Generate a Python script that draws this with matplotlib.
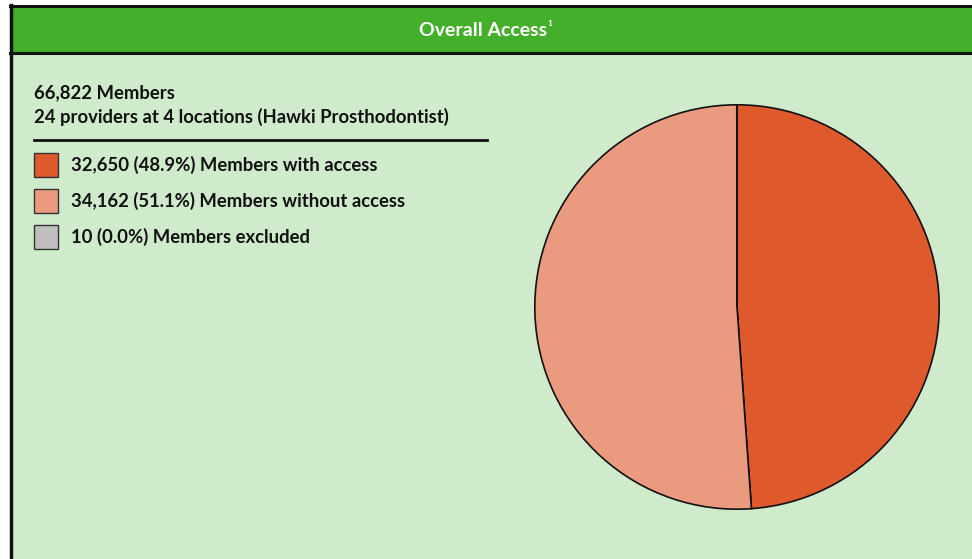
import matplotlib.pyplot as plt
from matplotlib.patches import Rectangle

# data
total_members = 66822
providers_line = "24 providers at 4 locations (Hawki Prosthodontist)"
labels = ["Members with access", "Members without access", "Members excluded"]
counts = [32650, 34162, 10]
pcts = [48.9, 51.1, 0.0]
colors = ["#DE592B", "#EA9A7F", "#BFBFBF"]

W, H = 972, 559
fig = plt.figure(figsize=(W / 100, H / 100), dpi=100)
fig.patch.set_facecolor("white")

bg = fig.add_axes([0, 0, 1, 1])
bg.set_xlim(0, W)
bg.set_ylim(H, 0)
bg.axis("off")

# body and header panels
bg.add_patch(Rectangle((10, 6), W, H, facecolor="#D0EBCB", edgecolor="none"))
bg.add_patch(Rectangle((10, 6), W, 47, facecolor="#43AF2A", edgecolor="none"))
bg.plot([10, W], [5.5, 5.5], color="#111111", lw=2.2)
bg.plot([10, W], [53, 53], color="#111111", lw=2.2)
bg.plot([10.5, 10.5], [5, H], color="#111111", lw=2.5)

font = "Lato"
bg.text(483, 30, "Overall Access", color="white", fontsize=14,
        fontweight="bold", ha="center", va="center", family=font)
bg.text(550, 24, "1", color="white", fontsize=6,
        fontweight="bold", ha="center", va="center", family=font)

fs = 13.3
bg.text(34, 93, f"{total_members:,} Members", fontsize=fs, fontweight="bold",
        va="center", family=font, color="#111111")
bg.text(34, 117, providers_line, fontsize=fs, fontweight="bold",
        va="center", family=font, color="#111111")
bg.plot([34, 487], [140, 140], color="#111111", lw=2)

ys = [165, 201, 237]
for y, c, n, p, lab in zip(ys, colors, counts, pcts, labels):
    bg.add_patch(Rectangle((34, y - 12), 24, 24, facecolor=c, edgecolor="#333333", lw=1))
    bg.text(71, y, f"{n:,} ({p:.1f}%) {lab}", fontsize=fs, fontweight="bold",
            va="center", family=font, color="#111111")

# pie
cx, cy, r = 737, 307, 203
ax = fig.add_axes([(cx - r) / W, (H - cy - r) / H, 2 * r / W, 2 * r / H])
ax.pie(counts, colors=colors, startangle=90, counterclock=False,
       wedgeprops=dict(edgecolor="#111111", linewidth=1.2))
ax.set_xlim(-1.004, 1.004)
ax.set_ylim(-1.004, 1.004)
ax.set_aspect("equal")

fig.savefig("out.png", dpi=100)
